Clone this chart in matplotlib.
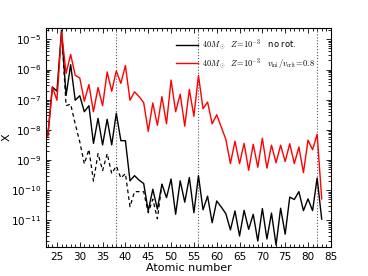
import numpy as np
import matplotlib
matplotlib.use("Agg")
import matplotlib.pyplot as plt
from matplotlib.ticker import FixedLocator, MultipleLocator, NullFormatter

# log10 abundances
z_norot = np.arange(23, 84)
logx_norot = [-8.2, -6.58, -6.72, -4.7, -6.86, -5.84, -7.02, -6.87, -7.4, -7.2,
              -8.45, -7.62, -8.5, -7.65, -8.5, -7.45, -8.36, -8.36, -9.69, -9.52,
              -9.67, -9.78, -10.69, -9.97, -10.63, -9.8, -10.25, -9.63, -10.8, -9.69,
              -10.4, -9.58, -10.75, -9.52, -10.65, -10.2, -11.08, -10.36, -10.56, -10.78,
              -11.32, -10.69, -11.52, -10.67, -11.3, -10.8, -11.69, -10.61, -11.62, -10.76,
              -11.82, -10.6, -11.46, -10.23, -10.31, -10.05, -10.68, -10.29, -10.68, -9.6,
              -10.96]

z_dash = np.arange(26, 49)
logx_dash = [-4.7, -7.2, -7.15, -7.8, -8.4, -9.13, -8.65, -9.7, -8.79, -9.35,
             -8.79, -9.45, -9.2, -9.6, -9.45, -10.55, -10.05, -10.05, -10.05, -10.75,
             -10.3, -10.95, -9.8]

z_rot = np.arange(23, 84)
logx_rot = [-8.2, -6.58, -7.02, -4.75, -6.13, -5.5, -6.19, -6.28, -7.05, -6.5,
            -7.4, -6.6, -7.2, -6.08, -6.72, -6.05, -6.46, -5.87, -7.02, -6.74,
            -6.9, -7.1, -8.05, -7.11, -7.85, -6.9, -7.8, -6.35, -7.4, -6.82,
            -7.88, -6.66, -7.55, -6.2, -7.3, -7.08, -7.8, -7.5, -7.91, -8.32,
            -9.12, -8.38, -9.12, -8.45, -9.34, -8.48, -9.24, -8.28, -9.27, -8.51,
            -9.09, -8.51, -9.05, -8.46, -9.12, -8.57, -9.42, -8.34, -8.66, -8.15,
            -10.29]

magic = [38, 56, 82]
ydecades = np.arange(-11, -4)

plt.rcParams['font.size'] = 8
plt.rcParams['mathtext.fontset'] = 'cm'

fig = plt.figure(figsize=(3.68, 2.76), dpi=100)
ax = fig.add_axes([0.125, 0.105, 0.774, 0.794])

for m in magic:
    ax.axvline(m, color='0.35', ls=':', lw=0.8)

ax.plot(z_dash, 10**np.array(logx_dash), 'k--', lw=0.9, dashes=(3, 2.5))
ax.plot(z_norot, 10**np.array(logx_norot), 'k-', lw=1.0,
        label=r"$40M_\odot\ \ Z\!=\!10^{-3}$   no rot.")
ax.plot(z_rot, 10**np.array(logx_rot), '-', color='red', lw=1.0,
        label=r"$40M_\odot\ \ Z\!=\!10^{-3}\ \ \ v_{\rm ini}/v_{\rm crit}\!=\!0.8$")

ax.set_yscale('log')
ax.set_xlim(22.6, 85)
ax.set_ylim(1.3e-12, 2.4e-5)
ax.set_xticks(np.arange(25, 86, 5))
ax.xaxis.set_minor_locator(MultipleLocator(1))
ax.yaxis.set_major_locator(FixedLocator(10.0**ydecades))
minor = [k * 10.0**d for d in range(-12, -4) for k in range(2, 10)]
ax.yaxis.set_minor_locator(FixedLocator(minor))
ax.yaxis.set_minor_formatter(NullFormatter())
ax.tick_params(which='both', direction='in', top=True, right=True, width=0.6)
ax.tick_params(which='major', length=3.5, labelsize=7.5)
ax.tick_params(which='minor', length=2)
for s in ax.spines.values():
    s.set_linewidth(0.8)

ax.set_xlabel("Atomic number")
ax.set_ylabel("X")
ax.xaxis.set_label_coords(0.5, -0.075)
ax.yaxis.set_label_coords(-0.12, 0.5)
ax.legend(loc='upper left', frameon=False, fontsize=6, handlelength=2.6,
          handletextpad=0.5, bbox_to_anchor=(0.43, 0.99), labelspacing=0.4)

fig.savefig("out.png", dpi=100)
